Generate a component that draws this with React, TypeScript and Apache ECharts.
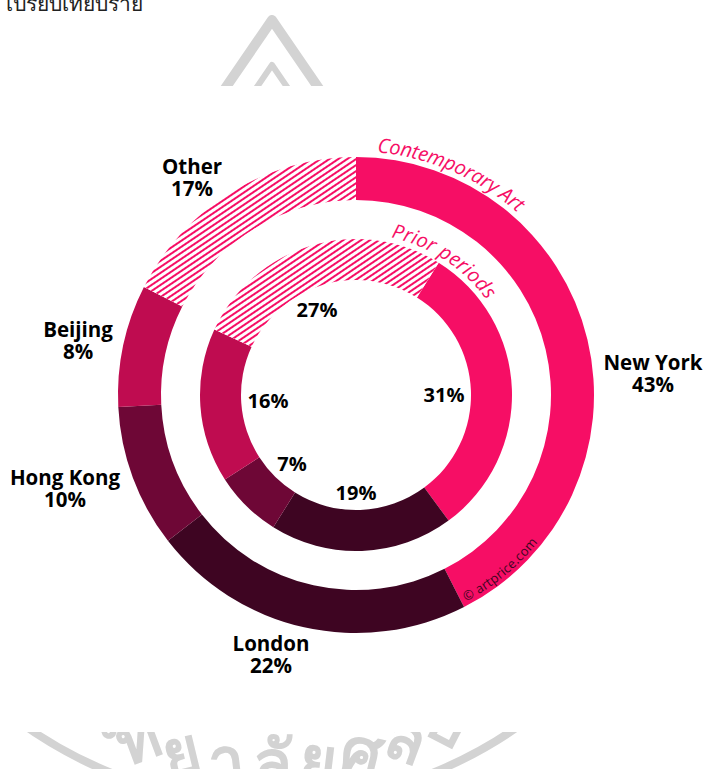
import React, { useEffect, useRef } from "react";
import * as echarts from "echarts";

const outerNames = ["New York", "London", "Hong Kong", "Beijing", "Other"];
const outerLabels = [43, 22, 10, 8, 17];
const innerLabels = [31, 19, 7, 16, 27];
// Arc shares as drawn in the picture (they differ slightly from the printed percentages)
const outerShares = [42.5, 22, 9.7, 8.3, 17.5];
const innerShares = [31, 19, 7, 16, 27];
const sliceColors = ["#f60e65", "#3e0522", "#6e0736", "#bf0c50", "#ffffff"];
const outerLabelAt = [[653, 373], [271, 654], [65, 488], [78, 340], [192, 177]];
const innerLabelAt = [[444, 394], [356, 492], [292, 463], [268, 400], [317, 309]];
const hatchColor = "#f60e65";
const ringTitleOuter = "Contemporary Art";
const ringTitleInner = "Prior periods";
const credit = "© artprice.com";
const topText = "เปรียบเทียบราย";
const sealClusters = ["ว", "ท", "ย", "า", "ลั", "ย", "ศ", "ล", "ป"];

const CX = 356, CY = 395;
const SEAL_X = 272, SEAL_Y = 374;

function arcText(text: string, font: string, r: number, a0: number, a1: number, color: string, flip = false, z = 20) {
  const ctx = document.createElement("canvas").getContext("2d")!;
  ctx.font = font;
  const chars = Array.from(text);
  const widths = chars.map((c) => ctx.measureText(c).width);
  const total = widths.reduce((s, w) => s + w, 0);
  let used = 0;
  return chars.map((c, i) => {
    const mid = (used + widths[i] / 2) / total;
    used += widths[i];
    const deg = a0 + (a1 - a0) * mid;
    const th = (deg * Math.PI) / 180;
    return {
      type: "text",
      x: CX + r * Math.sin(th),
      y: CY - r * Math.cos(th),
      rotation: flip ? Math.PI - th : -th,
      z,
      silent: true,
      style: { text: c, font, fill: color, align: "center", verticalAlign: "middle" },
    };
  });
}

function sealLetters(color: string) {
  const step = 6.8;
  return sealClusters.map((c, i) => {
    const deg = (i - 4) * step;
    const th = (deg * Math.PI) / 180;
    const r = 387;
    return {
      type: "text",
      x: SEAL_X + r * Math.sin(th),
      y: SEAL_Y + r * Math.cos(th),
      rotation: -th,
      z: 1,
      silent: true,
      style: { text: c, font: "bold 64px 'Noto Sans'", fill: color, align: "center", verticalAlign: "middle" },
    };
  });
}

const hatch = {
  symbol: "rect",
  color: hatchColor,
  backgroundColor: "#ffffff",
  dashArrayX: [1, 0],
  dashArrayY: [2, 3],
  rotation: (-34 * Math.PI) / 180,
  symbolSize: 1,
  maxTileWidth: 512,
  maxTileHeight: 512,
};

function ring(shares: number[], printed: number[], radius: number[], startAngle: number, names: string[] | null, at: number[][], size: number) {
  return {
    type: "pie",
    center: [CX, CY],
    radius,
    startAngle,
    clockwise: true,
    silent: true,
    avoidLabelOverlap: false,
    labelLine: { show: false },
    label: {
      show: true,
      position: "inside",
      fontFamily: "Open Sans",
      fontWeight: 700,
      fontSize: size,
      lineHeight: 22,
      color: "#000000",
      formatter: (p: any) => (names ? `${names[p.dataIndex]}\n${printed[p.dataIndex]}%` : `${printed[p.dataIndex]}%`),
    },
    labelLayout: (p: any) => ({ x: at[p.dataIndex][0], y: at[p.dataIndex][1], align: "center", verticalAlign: "middle" }),
    data: shares.map((v, i) => ({
      value: v,
      name: String(i),
      itemStyle: i === 4 ? { color: "#ffffff", decal: hatch } : { color: sliceColors[i] },
    })),
  };
}

export default function App() {
  const ref = useRef<HTMLDivElement>(null);
  useEffect(() => {
    document.body.style.margin = "0";
    const chart = echarts.init(ref.current!, null, { renderer: "svg" });
    const gray = "#d3d3d3";
    chart.setOption({
      animation: false,
      backgroundColor: "#ffffff",
      series: [
        ring(outerShares, outerLabels, [195, 238], 90, outerNames, outerLabelAt, 20.5),
        ring(innerShares, innerLabels, [115, 156], 58, null, innerLabelAt, 20),
      ],
      graphic: [
        { type: "text", x: 6, y: 13, style: { text: topText, font: "21px 'Noto Sans'", fill: "#222", verticalAlign: "bottom" }, silent: true },
        { type: "polyline", shape: { points: [[224, 90], [272, 20], [320, 90]] }, style: { stroke: gray, lineWidth: 10, lineJoin: "round", fill: "none" }, silent: true },
        { type: "polyline", shape: { points: [[254.9, 90], [272, 65], [289.1, 90]] }, style: { stroke: gray, lineWidth: 6, lineJoin: "round", fill: "none" }, silent: true },
        { type: "rect", shape: { x: 200, y: 86, width: 150, height: 14 }, style: { fill: "#fff" }, silent: true },
        { type: "arc", shape: { cx: SEAL_X, cy: SEAL_Y, r: 430, startAngle: (54 * Math.PI) / 180, endAngle: (126 * Math.PI) / 180 }, style: { stroke: gray, lineWidth: 8, fill: "none" }, silent: true },
        ...sealLetters(gray),
        { type: "rect", shape: { x: 0, y: 660, width: 705, height: 72 }, style: { fill: "#fff" }, z: 2, silent: true },
        ...arcText(ringTitleOuter, "italic 20px 'Open Sans'", 251, 5, 41.5, hatchColor),
        ...arcText(ringTitleInner, "italic 20px 'Open Sans'", 169, 12.5, 54, hatchColor),
        ...arcText(credit, "13px 'Open Sans'", 229, 152, 129, "#3e0522", true),
      ],
    });
    return () => chart.dispose();
  }, []);
  return <div ref={ref} style={{ width: 705, height: 769 }} />;
}
